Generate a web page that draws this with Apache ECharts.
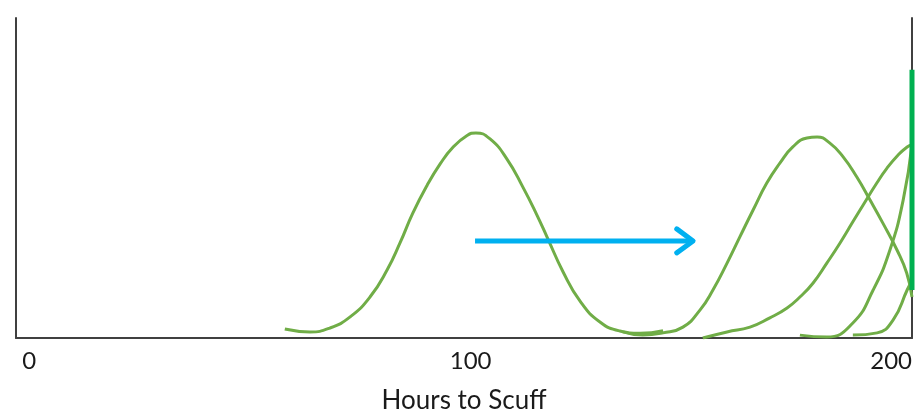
<!DOCTYPE html>
<html>
<head>
<meta charset="utf-8">
<script src="https://cdn.jsdelivr.net/npm/echarts@6/dist/echarts.min.js"></script>
<style>
  html, body { margin: 0; padding: 0; background: #fff; }
  #main { width: 923px; height: 419px; }
</style>
</head>
<body>
<div id="main"></div>
<script>
'use strict';

// hand drawn curves, [hours, height]
var curve1 = [[57.9, 2.8], [63.6, 1.9], [68.1, 3.1], [72.7, 6.6], [77.2, 12.8], [81.1, 21.3],
    [84.0, 29.7], [86.9, 39.0], [90.1, 47.6], [93.1, 54.4], [96.0, 59.6], [99.2, 63.3],
    [101.2, 64.1], [104.4, 62.2], [108.2, 56.0], [111.9, 47.0], [115.0, 38.5], [117.5, 31.0],
    [120.9, 20.8], [124.8, 11.5], [129.3, 5.0], [133.8, 2.2], [138.4, 1.5], [143.6, 2.3]];
var curve2 = [[134.5, 1.9], [139.0, 0.9], [143.6, 1.6], [148.1, 3.4], [152.0, 8.8], [154.9, 15],
    [158.1, 23.4], [161.0, 31.6], [164.0, 40], [167.1, 48.4], [170.1, 54.7], [173.0, 59.7],
    [176.2, 62.5], [178.5, 62.8], [181.4, 60.9], [184.4, 56.6], [187.5, 50.3], [190.5, 43.1],
    [193.4, 35.9], [196.6, 27.5], [198.8, 20.3], [200, 12.8]];
var curve3 = [[152.6, 0], [158.1, 1.9], [163.3, 3.4], [167.8, 6.3], [171.7, 9.4], [174.6, 12.8],
    [177.6, 17.2], [180.7, 23.4], [183.7, 29.7], [186.6, 36.3], [188.9, 41.5], [192.1, 48.6],
    [194.3, 53.0], [196.6, 56.8], [198.9, 59.7], [200, 60.3]];
var curve4 = [[174.6, 0.9], [180.7, 0.3], [186.6, 4.7], [191.2, 15], [195.0, 27.5], [198.0, 43.1],
    [200, 60.3]];
var curve5 = [[186.6, 0.9], [192.1, 1.6], [195.7, 5.6], [198.9, 15], [200, 18.1]];
var limitLine = [[200, 15], [200, 83.8]];
var arrowShaft = [[101.0, 30.3], [150.4, 30.3]];
var arrowHead = [[146.7, 34.1], [150.4, 30.3], [146.7, 26.6]];
var tickLabels = [0, 100, 200];
var xTitle = 'Hours to Scuff';

var green = '#70ad47';
var font = 'Lato, "Open Sans", sans-serif';

function curve(data) {
    return {
        type: 'line',
        data: data,
        smooth: 0.5,
        symbol: 'none',
        lineStyle: { color: green, width: 3 },
        z: 3
    };
}

var myChart = echarts.init(document.getElementById('main'));

var option = {
    animation: false,
    grid: { left: 16, right: 11, top: 18, bottom: 81 },
    xAxis: {
        type: 'value',
        min: -3,
        max: 200,
        name: xTitle,
        nameLocation: 'middle',
        nameGap: 50,
        nameTextStyle: { fontFamily: font, fontSize: 26, color: '#1a1a1a' },
        axisLine: { show: true, lineStyle: { color: '#404040', width: 2 } },
        axisTick: { show: false },
        splitLine: { show: false },
        axisLabel: {
            customValues: tickLabels,
            margin: 11,
            alignMaxLabel: 'right',
            fontFamily: font,
            fontSize: 24,
            color: '#1a1a1a'
        }
    },
    yAxis: [{
        type: 'value',
        min: 0,
        max: 100,
        axisLine: { show: true, onZero: false, lineStyle: { color: '#404040', width: 2 } },
        axisTick: { show: false },
        axisLabel: { show: false },
        splitLine: { show: false }
    }, {
        type: 'value',
        position: 'right',
        min: 0,
        max: 100,
        axisLine: { show: true, onZero: false, lineStyle: { color: '#404040', width: 2 } },
        axisTick: { show: false },
        axisLabel: { show: false },
        splitLine: { show: false }
    }],
    series: [
        curve(curve1),
        curve(curve2),
        curve(curve3),
        curve(curve4),
        curve(curve5),
        {
            type: 'line',
            data: limitLine,
            symbol: 'none',
            lineStyle: { color: '#00b050', width: 5 },
            z: 4
        },
        {
            type: 'line',
            data: arrowShaft,
            symbol: 'none',
            lineStyle: { color: '#00b0f0', width: 5 },
            z: 4
        },
        {
            type: 'line',
            data: arrowHead,
            symbol: 'none',
            lineStyle: { color: '#00b0f0', width: 5, cap: 'round', join: 'round' },
            z: 4
        }
    ]
};

myChart.setOption(option);
</script>
</body>
</html>
